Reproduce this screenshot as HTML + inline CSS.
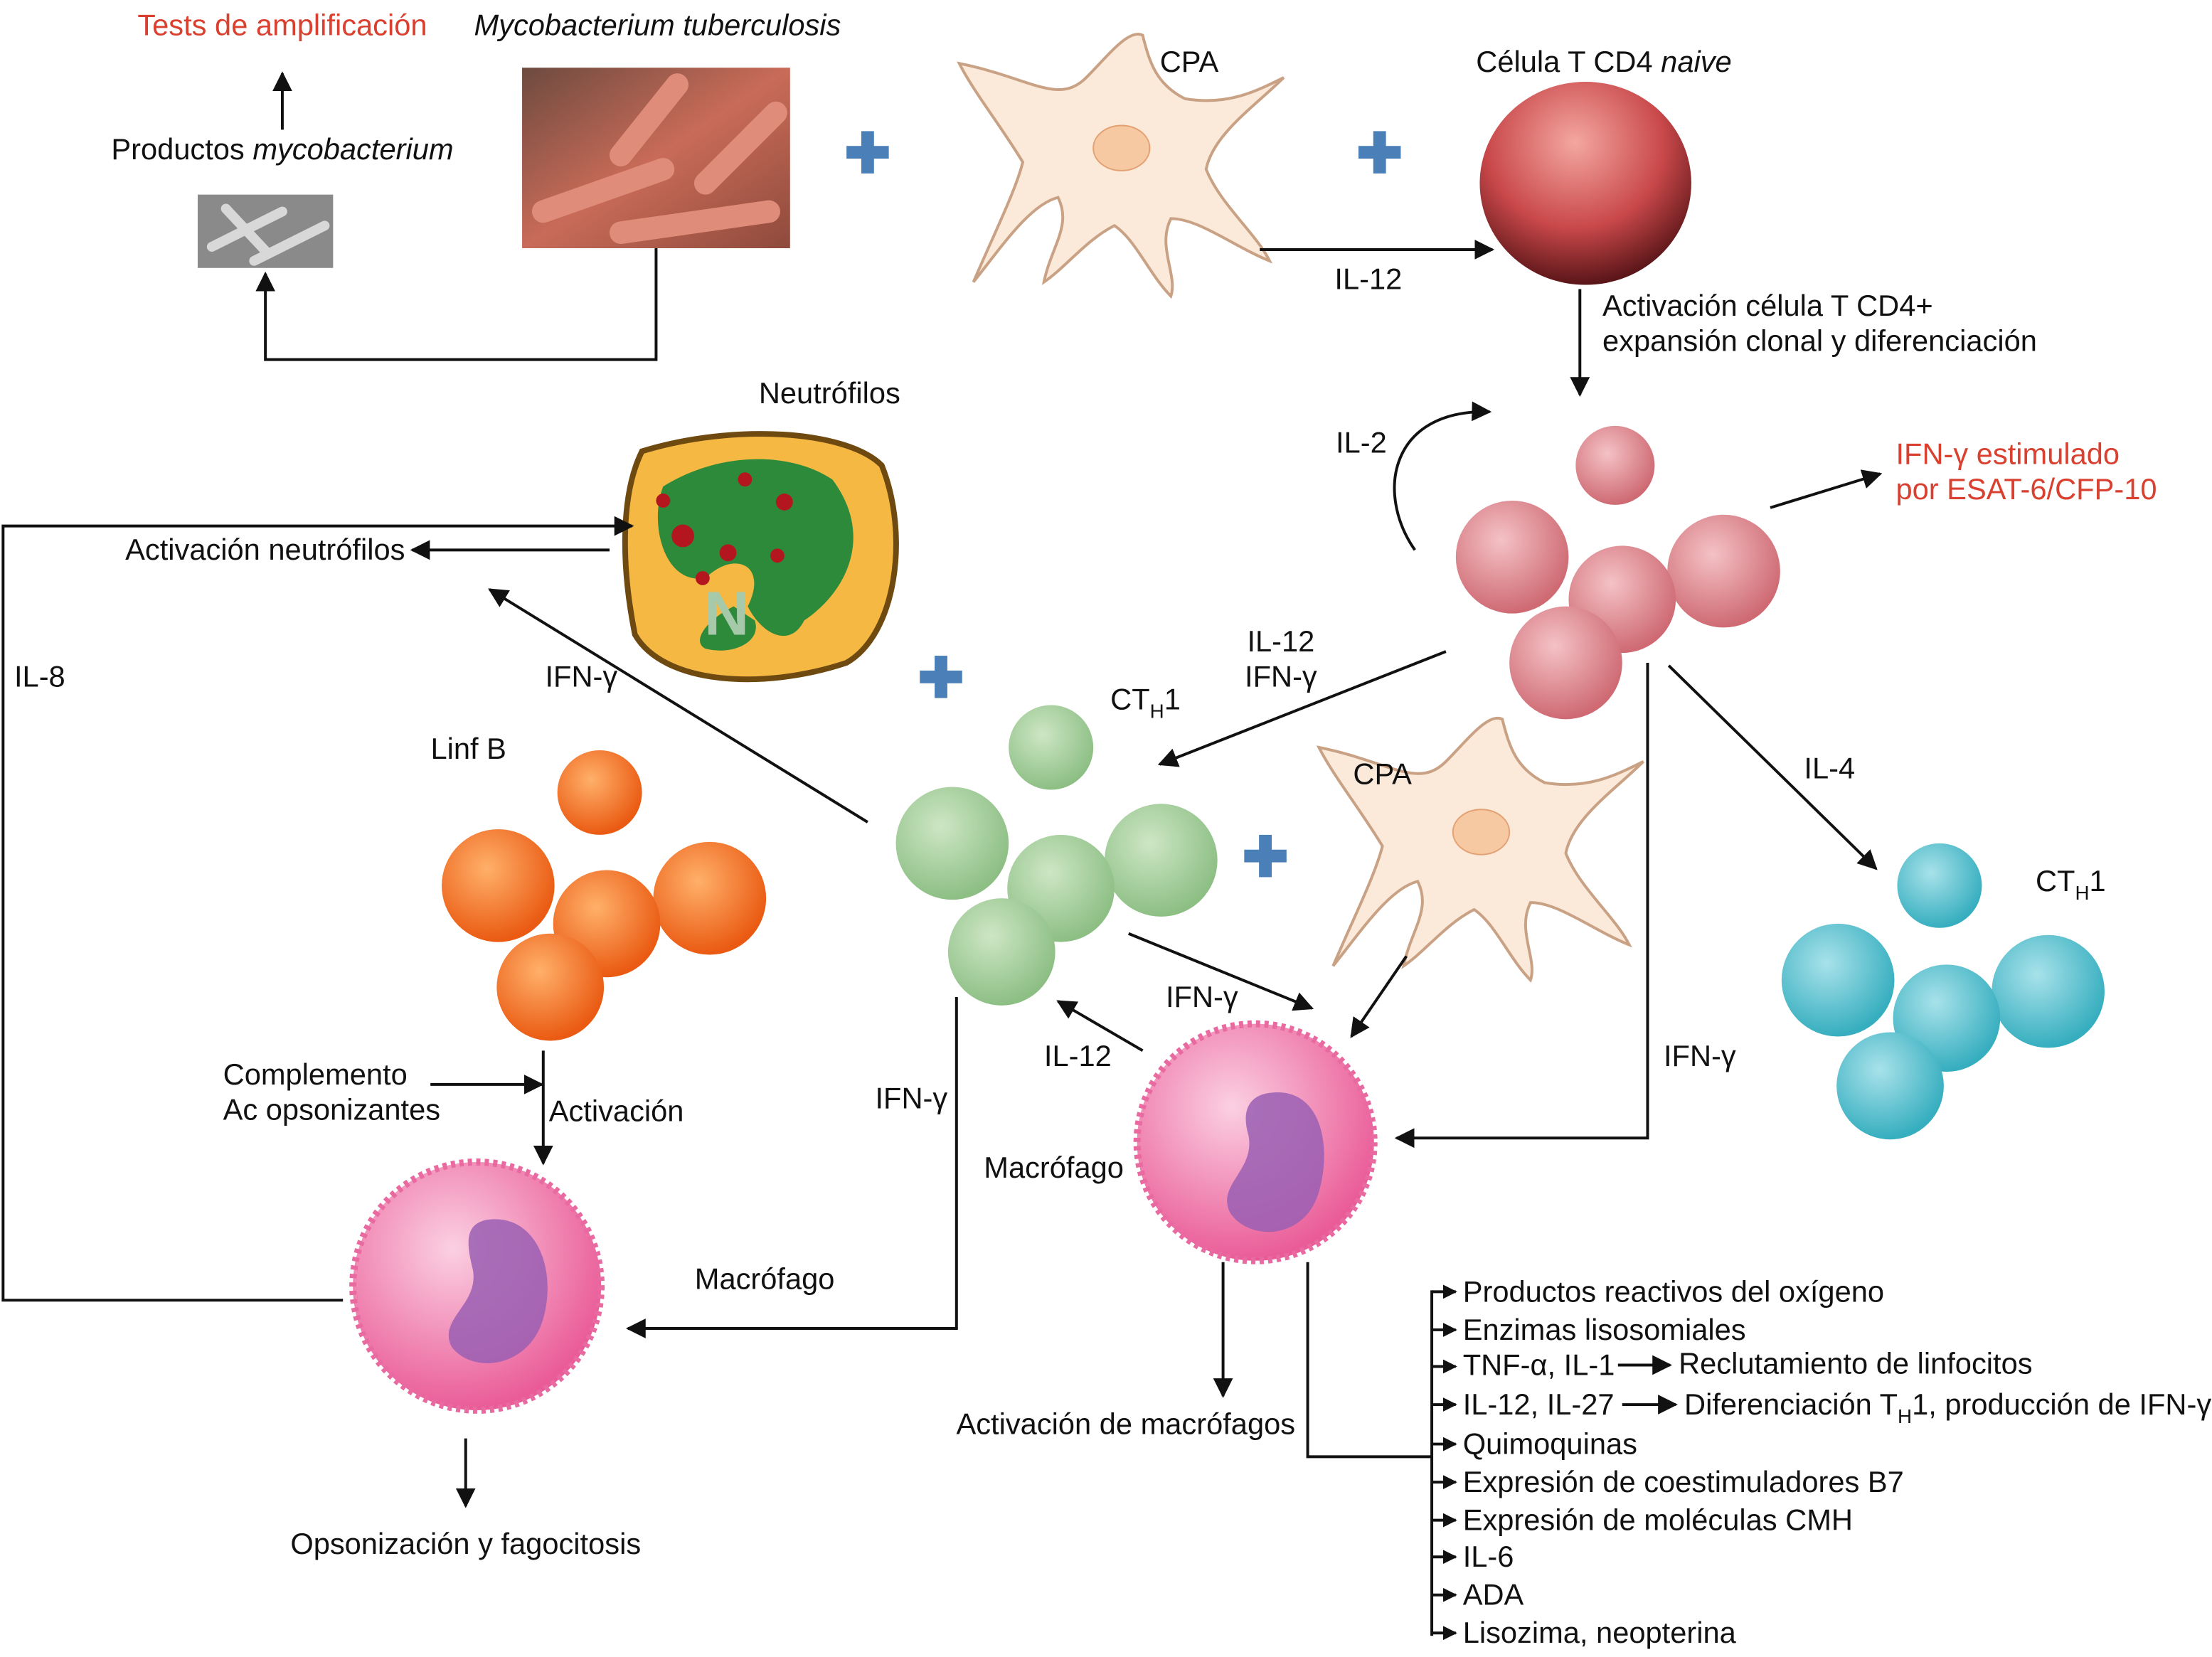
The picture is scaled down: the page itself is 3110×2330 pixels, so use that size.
<!DOCTYPE html>
<html><head><meta charset="utf-8"><style>
html,body{margin:0;padding:0;background:#fff;}
svg{display:block;}
text{font-family:"Liberation Sans",sans-serif;font-size:21px;fill:#111;}
.r{fill:#d9402f;}
</style></head><body>
<svg width="3110" height="2330" viewBox="0 0 1568 1175" xmlns="http://www.w3.org/2000/svg">
<defs>
<marker id="a" viewBox="0 0 10 10" refX="9" refY="5" markerWidth="7" markerHeight="7" orient="auto-start-reverse"><path d="M0,0L10,5L0,10z" fill="#111"/></marker>
<marker id="s" viewBox="0 0 10 10" refX="9" refY="5" markerWidth="5" markerHeight="5" orient="auto"><path d="M0,0L10,5L0,10z" fill="#111"/></marker>
<radialGradient id="pk" cx="40%" cy="35%" r="65%"><stop offset="0" stop-color="#f4c2c6"/><stop offset="1" stop-color="#cf6a73"/></radialGradient>
<radialGradient id="gr" cx="40%" cy="35%" r="65%"><stop offset="0" stop-color="#cde6c5"/><stop offset="1" stop-color="#8dbf84"/></radialGradient>
<radialGradient id="cy" cx="40%" cy="35%" r="65%"><stop offset="0" stop-color="#a8e2ea"/><stop offset="1" stop-color="#36aebf"/></radialGradient>
<radialGradient id="or" cx="40%" cy="35%" r="65%"><stop offset="0" stop-color="#ffb06a"/><stop offset="1" stop-color="#ea5a12"/></radialGradient>
<radialGradient id="rd" cx="45%" cy="30%" r="70%"><stop offset="0" stop-color="#f4a7a0"/><stop offset="0.6" stop-color="#c9484a"/><stop offset="1" stop-color="#5a1518"/></radialGradient>
<radialGradient id="mc" cx="40%" cy="35%" r="65%"><stop offset="0" stop-color="#fbd0e2"/><stop offset="1" stop-color="#ea5c98"/></radialGradient>
<linearGradient id="bac" x1="0" y1="0" x2="1" y2="1"><stop offset="0" stop-color="#6d4a3f"/><stop offset="0.5" stop-color="#c96b58"/><stop offset="1" stop-color="#8e4a3c"/></linearGradient>
<g id="plus"><rect x="-4.5" y="-15" width="9" height="30" fill="#4a7fb8"/><rect x="-15" y="-4.5" width="30" height="9" fill="#4a7fb8"/></g>
<g id="cpa"><path d="M-110,-70 C-60,-60 -40,-40 -20,-60 C-5,-75 10,-95 20,-90 C25,-70 30,-55 50,-45 C80,-40 100,-50 120,-60 C100,-40 70,-20 65,5 C75,30 100,50 110,70 C85,60 60,40 40,40 C30,60 45,80 40,95 C25,80 15,55 0,45 C-20,55 -35,75 -50,85 C-45,60 -30,45 -40,25 C-60,30 -80,60 -100,85 C-85,50 -70,20 -65,0 C-80,-25 -100,-50 -110,-70Z" fill="#fbe9d9" stroke="#c9a184" stroke-width="2"/><ellipse cx="5" cy="-10" rx="20" ry="16" fill="#f7c9a2" stroke="#e3a173"/></g>
</defs>

<text x="200" y="25" text-anchor="middle" class="r">Tests de amplificación</text>
<text x="466" y="25" text-anchor="middle" font-style="italic">Mycobacterium tuberculosis</text>
<line x1="200" y1="92" x2="200" y2="52" stroke="#111" stroke-width="2" marker-end="url(#a)"/>
<text x="200" y="113" text-anchor="middle">Productos <tspan font-style="italic">mycobacterium</tspan></text>
<rect x="140" y="138" width="96" height="52" fill="#8a8a8a"/>
<g stroke="#d8d8d8" stroke-width="7" stroke-linecap="round"><line x1="150" y1="175" x2="200" y2="150"/><line x1="180" y1="185" x2="230" y2="160"/><line x1="160" y1="148" x2="190" y2="180"/></g>
<rect x="370" y="48" width="190" height="128" fill="url(#bac)"/>
<g stroke="#e08c7a" stroke-width="16" stroke-linecap="round"><line x1="385" y1="150" x2="470" y2="120"/><line x1="440" y1="165" x2="545" y2="150"/><line x1="480" y1="60" x2="440" y2="110"/><line x1="500" y1="130" x2="550" y2="80"/></g>
<polyline points="465,176 465,255 188,255 188,194" fill="none" stroke="#111" stroke-width="2" marker-end="url(#a)"/>

<use href="#plus" x="615" y="108"/><use href="#plus" x="978" y="108"/><use href="#plus" x="667" y="480"/><use href="#plus" x="897" y="607"/>
<use href="#cpa" x="790" y="115"/>
<text x="843" y="51" text-anchor="middle">CPA</text>
<line x1="893" y1="177" x2="1058" y2="177" stroke="#111" stroke-width="2" marker-end="url(#a)"/>
<text x="970" y="205" text-anchor="middle">IL-12</text>
<ellipse cx="1124" cy="130" rx="75" ry="72" fill="url(#rd)"/>
<text x="1137" y="51" text-anchor="middle">Célula T CD4 <tspan font-style="italic">naive</tspan></text>
<line x1="1120" y1="205" x2="1120" y2="280" stroke="#111" stroke-width="2" marker-end="url(#a)"/>
<text x="1136" y="224">Activación célula T CD4+</text>
<text x="1136" y="249">expansión clonal y diferenciación</text>

<g fill="url(#pk)"><circle cx="1145" cy="330" r="28"/><circle cx="1072" cy="395" r="40"/><circle cx="1222" cy="405" r="40"/><circle cx="1150" cy="425" r="38"/><circle cx="1110" cy="470" r="40"/></g>
<path d="M1003,390 C975,350 985,290 1056,292" fill="none" stroke="#111" stroke-width="2" marker-end="url(#a)"/>
<text x="965" y="321" text-anchor="middle">IL-2</text>
<line x1="1255" y1="360" x2="1333" y2="336" stroke="#111" stroke-width="2" marker-end="url(#a)"/>
<text x="1344" y="329" class="r">IFN-γ estimulado</text>
<text x="1344" y="354" class="r">por ESAT-6/CFP-10</text>

<path d="M455,320 C520,300 600,305 625,330 C645,380 635,450 600,470 C540,490 470,485 450,450 C440,400 440,350 455,320Z" fill="#f5b843" stroke="#6e4a10" stroke-width="4"/>
<path d="M470,345 C510,320 560,320 590,340 C620,380 600,420 570,440 C560,460 540,450 530,430 C545,400 520,390 500,410 C470,415 460,370 470,345Z" fill="#2d8a3a"/>
<path d="M520,430 C500,440 490,455 500,460 C520,465 540,455 535,440Z" fill="#2d8a3a"/>
<g fill="#b3161f"><circle cx="484" cy="380" r="8"/><circle cx="470" cy="355" r="5"/><circle cx="528" cy="340" r="5"/><circle cx="556" cy="356" r="6"/><circle cx="516" cy="392" r="6"/><circle cx="551" cy="394" r="5"/><circle cx="498" cy="410" r="5"/></g>
<text x="515" y="450" font-family="Liberation Serif" font-size="44" font-weight="bold" text-anchor="middle" style="fill:#a5c9a9;font-size:44px">N</text>
<text x="588" y="286" text-anchor="middle">Neutrófilos</text>
<polyline points="243,922 2,922 2,373 448,373" fill="none" stroke="#111" stroke-width="2" marker-end="url(#a)"/>
<line x1="432" y1="390" x2="292" y2="390" stroke="#111" stroke-width="2" marker-end="url(#a)"/>
<text x="287" y="397" text-anchor="end">Activación neutrófilos</text>
<text x="28" y="487" text-anchor="middle">IL-8</text>
<line x1="615" y1="583" x2="347" y2="418" stroke="#111" stroke-width="2" marker-end="url(#a)"/>
<text x="412" y="487" text-anchor="middle">IFN-γ</text>

<g fill="url(#gr)"><circle cx="745" cy="530" r="30"/><circle cx="675" cy="598" r="40"/><circle cx="823" cy="610" r="40"/><circle cx="752" cy="630" r="38"/><circle cx="710" cy="675" r="38"/></g>
<text x="812" y="503" text-anchor="middle">CT<tspan style="font-size:14px" dy="6">H</tspan><tspan dy="-6">1</tspan></text>
<line x1="1025" y1="462" x2="822" y2="542" stroke="#111" stroke-width="2" marker-end="url(#a)"/>
<text x="908" y="462" text-anchor="middle">IL-12</text>
<text x="908" y="487" text-anchor="middle">IFN-γ</text>
<use href="#cpa" x="1045" y="600"/>
<text x="980" y="556" text-anchor="middle">CPA</text>
<polyline points="1168,470 1168,807 990,807" fill="none" stroke="#111" stroke-width="2" marker-end="url(#a)"/>
<text x="1205" y="756" text-anchor="middle">IFN-γ</text>
<line x1="1183" y1="472" x2="1330" y2="616" stroke="#111" stroke-width="2" marker-end="url(#a)"/>
<text x="1297" y="552" text-anchor="middle">IL-4</text>

<g fill="url(#cy)"><circle cx="1375" cy="628" r="30"/><circle cx="1303" cy="695" r="40"/><circle cx="1452" cy="703" r="40"/><circle cx="1380" cy="722" r="38"/><circle cx="1340" cy="770" r="38"/></g>
<text x="1468" y="632" text-anchor="middle">CT<tspan style="font-size:14px" dy="6">H</tspan><tspan dy="-6">1</tspan></text>

<g fill="url(#or)"><circle cx="425" cy="562" r="30"/><circle cx="353" cy="628" r="40"/><circle cx="503" cy="637" r="40"/><circle cx="430" cy="655" r="38"/><circle cx="390" cy="700" r="38"/></g>
<text x="332" y="538" text-anchor="middle">Linf B</text>
<line x1="385" y1="745" x2="385" y2="825" stroke="#111" stroke-width="2" marker-end="url(#a)"/>
<text x="389" y="795">Activación</text>
<line x1="305" y1="769" x2="384" y2="769" stroke="#111" stroke-width="2" marker-end="url(#a)"/>
<text x="158" y="769">Complemento</text>
<text x="158" y="794">Ac opsonizantes</text>

<circle cx="338" cy="912" r="88" fill="url(#mc)" stroke="#e86aa0" stroke-width="5" stroke-dasharray="3 3"/>
<path d="M345,865 C380,860 395,900 385,935 C375,970 335,975 320,955 C310,935 340,925 335,900 C330,880 330,868 345,865Z" fill="#9a5fb3" opacity="0.85"/>
<line x1="330" y1="1020" x2="330" y2="1068" stroke="#111" stroke-width="2" marker-end="url(#a)"/>
<text x="330" y="1102" text-anchor="middle">Opsonización y fagocitosis</text>
<polyline points="678,707 678,942 445,942" fill="none" stroke="#111" stroke-width="2" marker-end="url(#a)"/>
<text x="646" y="786" text-anchor="middle">IFN-γ</text>
<text x="542" y="914" text-anchor="middle">Macrófago</text>

<circle cx="890" cy="810" r="84" fill="url(#mc)" stroke="#e86aa0" stroke-width="5" stroke-dasharray="3 3"/>
<path d="M900,775 C935,770 945,810 935,845 C925,880 885,880 872,860 C862,840 890,830 885,805 C880,788 885,777 900,775Z" fill="#9a5fb3" opacity="0.85"/>
<text x="747" y="835" text-anchor="middle">Macrófago</text>
<line x1="800" y1="662" x2="930" y2="715" stroke="#111" stroke-width="2" marker-end="url(#a)"/>
<text x="852" y="714" text-anchor="middle">IFN-γ</text>
<line x1="997" y1="678" x2="958" y2="735" stroke="#111" stroke-width="2" marker-end="url(#a)"/>
<line x1="810" y1="745" x2="750" y2="710" stroke="#111" stroke-width="2" marker-end="url(#a)"/>
<text x="764" y="756" text-anchor="middle">IL-12</text>
<line x1="867" y1="895" x2="867" y2="990" stroke="#111" stroke-width="2" marker-end="url(#a)"/>
<text x="798" y="1017" text-anchor="middle">Activación de macrófagos</text>
<polyline points="927,895 927,1033 1015,1033" fill="none" stroke="#111" stroke-width="2"/>
<line x1="1015" y1="915" x2="1015" y2="1160" stroke="#111" stroke-width="2"/>
<g stroke="#111" stroke-width="2">
<line x1="1015" y1="916" x2="1032" y2="916" marker-end="url(#s)"/>
<line x1="1015" y1="943" x2="1032" y2="943" marker-end="url(#s)"/>
<line x1="1015" y1="969" x2="1032" y2="969" marker-end="url(#s)"/>
<line x1="1015" y1="996" x2="1032" y2="996" marker-end="url(#s)"/>
<line x1="1015" y1="1024" x2="1032" y2="1024" marker-end="url(#s)"/>
<line x1="1015" y1="1051" x2="1032" y2="1051" marker-end="url(#s)"/>
<line x1="1015" y1="1078" x2="1032" y2="1078" marker-end="url(#s)"/>
<line x1="1015" y1="1104" x2="1032" y2="1104" marker-end="url(#s)"/>
<line x1="1015" y1="1131" x2="1032" y2="1131" marker-end="url(#s)"/>
<line x1="1015" y1="1158" x2="1032" y2="1158" marker-end="url(#s)"/>
<line x1="1147" y1="968" x2="1184" y2="968" marker-end="url(#a)"/>
<line x1="1150" y1="996" x2="1188" y2="996" marker-end="url(#a)"/>
</g>
<g>
<text x="1037" y="923">Productos reactivos del oxígeno</text>
<text x="1037" y="950">Enzimas lisosomiales</text>
<text x="1037" y="975">TNF-α, IL-1</text>
<text x="1190" y="974">Reclutamiento de linfocitos</text>
<text x="1037" y="1003">IL-12, IL-27</text>
<text x="1194" y="1003">Diferenciación T<tspan style="font-size:14px" dy="6">H</tspan><tspan dy="-6">1, producción de IFN-γ</tspan></text>
<text x="1037" y="1031">Quimoquinas</text>
<text x="1037" y="1058">Expresión de coestimuladores B7</text>
<text x="1037" y="1085">Expresión de moléculas CMH</text>
<text x="1037" y="1111">IL-6</text>
<text x="1037" y="1138">ADA</text>
<text x="1037" y="1165">Lisozima, neopterina</text>
</g>
</svg>
</body></html>
